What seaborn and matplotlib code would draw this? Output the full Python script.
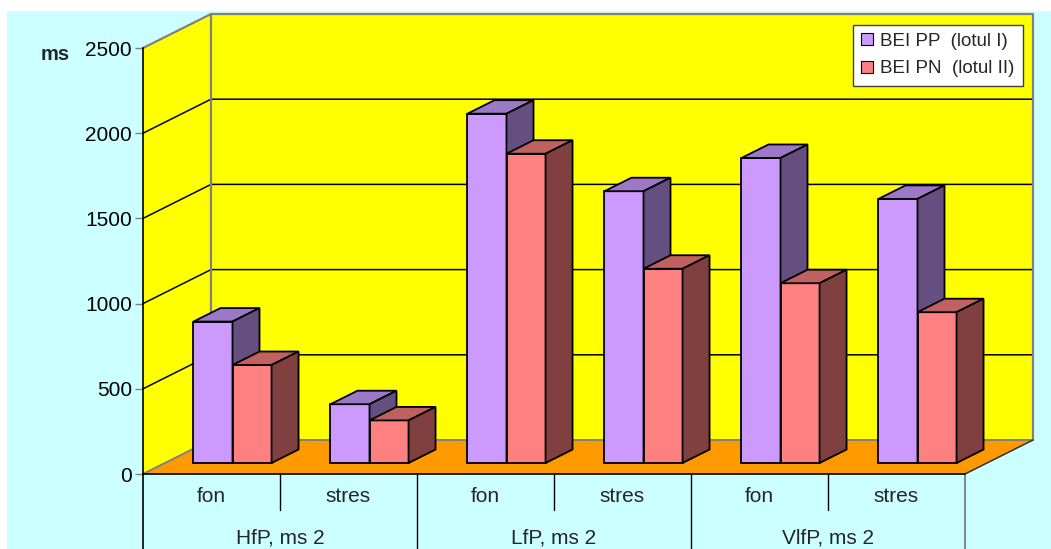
import matplotlib
matplotlib.use("Agg")
import matplotlib.pyplot as plt
import matplotlib.transforms as mtransforms
from matplotlib.patches import Polygon, Rectangle, Patch
import pandas as pd
import seaborn as sns

# ---- data ----
groups = ["HfP, ms 2", "LfP, ms 2", "VlfP, ms 2"]
phases = ["fon", "stres"]
series = ["BEI PP  (lotul I)", "BEI PN  (lotul II)"]
bei_pp = [830, 345, 2050, 1595, 1790, 1550]
bei_pn = [575, 250, 1815, 1140, 1055, 885]
y_ticks = [0, 500, 1000, 1500, 2000, 2500]
y_label = "ms"

# ---- style ----
front_cols = ["#CC99FF", "#FF8080"]
top_cols = ["#9D78C6", "#C06060"]
side_cols = ["#644F80", "#804040"]
BG = "#CCFFFF"
WALL = "#FFFF00"
FLOOR = "#FF9900"

sns.set_theme(style="white")
plt.rcParams["font.family"] = ["Liberation Sans", "DejaVu Sans"]

W, H = 1051, 549
fig = plt.figure(figsize=(W / 100, H / 100), dpi=100)
fig.patch.set_facecolor("white")
fig.add_artist(Rectangle((7 / W, 0), 1 - 7 / W, 1 - 11 / H,
                         transform=fig.transFigure, facecolor=BG,
                         edgecolor="none", zorder=-5))

# front plane of the plot box (pixels)
x0px, x1px, ybot, ytop = 143, 965, 474, 48
ax = fig.add_axes([x0px / W, 1 - ybot / H, (x1px - x0px) / W, (ybot - ytop) / H])
ax.set_facecolor("none")

cats = [f"{g}|{p}" for g in groups for p in phases]
df = pd.DataFrame({
    "cat": cats * 2,
    "lot": [series[0]] * len(cats) + [series[1]] * len(cats),
    "val": bei_pp + bei_pn,
})
sns.barplot(data=df, x="cat", y="val", hue="lot", hue_order=series,
            palette=front_cols, width=0.57, saturation=1, errorbar=None,
            edgecolor="black", linewidth=1.3, legend=False, ax=ax)

n = len(cats)
ax.set_xlim(-0.5, n - 0.5)
ax.set_ylim(0, y_ticks[-1])

# pixel -> data conversion factors
sx = (x1px - x0px) / n
sy = (ybot - ytop) / y_ticks[-1]
wdx, wdy = 68 / sx, 34 / sy      # depth of the walls / floor
bdx, bdy = 21 / sx, 11 / sy      # bar front face shift into the box
ddx, ddy = 27 / sx, 13.5 / sy    # bar depth

L, R, T = -0.5, n - 0.5, y_ticks[-1]

# walls and floor
ax.add_patch(Polygon([(L + wdx, wdy), (R + wdx, wdy), (R + wdx, T + wdy), (L + wdx, T + wdy)],
                     closed=True, facecolor=WALL, edgecolor="none", zorder=0.5, clip_on=False))
ax.add_patch(Polygon([(L, 0), (L, T), (L + wdx, T + wdy), (L + wdx, wdy)],
                     closed=True, facecolor=WALL, edgecolor="none", zorder=0.5, clip_on=False))
for v in y_ticks[1:-1]:
    ax.plot([L, L + wdx, R + wdx], [v, v + wdy, v + wdy], color="black", lw=1.1,
            zorder=0.8, clip_on=False)
ax.plot([L, L + wdx, R + wdx, R + wdx], [T, T + wdy, T + wdy, wdy], color="#808080",
        lw=1.6, zorder=0.9, clip_on=False)
ax.plot([L + wdx, L + wdx], [wdy, T + wdy], color="#808080", lw=1.6, zorder=0.9, clip_on=False)
ax.add_patch(Polygon([(L, 0), (R, 0), (R + wdx, wdy), (L + wdx, wdy)], closed=True,
                     facecolor=FLOOR, edgecolor="none", zorder=1, clip_on=False))
ax.plot([L, L + wdx, R + wdx], [0, wdy, wdy], color="#808080", lw=1.4, zorder=1.1, clip_on=False)
ax.plot([R, R + wdx], [0, wdy], color="#303030", lw=1.1, zorder=1.1, clip_on=False)

# bars: push the front faces into the box and add tops and sides
bars = [p for p in ax.patches if isinstance(p, Rectangle) and p.get_width() < 1]
for p in bars:
    fc = matplotlib.colors.to_hex(p.get_facecolor())
    k = 0 if fc.lower() == front_cols[0].lower() else 1
    x, w, h = p.get_x() + bdx, p.get_width(), p.get_height()
    p.set_x(x)
    p.set_y(bdy)
    p.set_zorder(3 + k)
    p.set_clip_on(False)
    y0, y1 = bdy, bdy + h
    ax.add_patch(Polygon([(x, y1), (x + w, y1), (x + w + ddx, y1 + ddy), (x + ddx, y1 + ddy)],
                         closed=True, facecolor=top_cols[k], edgecolor="black", lw=1.3,
                         zorder=3.2 + k, clip_on=False))
    ax.add_patch(Polygon([(x + w, y0), (x + w, y1), (x + w + ddx, y1 + ddy), (x + w + ddx, y0 + ddy)],
                         closed=True, facecolor=side_cols[k], edgecolor="black", lw=1.3,
                         zorder=3.2 + k, clip_on=False))

# axes styling
for s in ["top", "right"]:
    ax.spines[s].set_visible(False)
ax.spines["left"].set_color("black")
ax.spines["left"].set_linewidth(1.2)
ax.spines["bottom"].set_color("black")
ax.spines["bottom"].set_linewidth(1.2)
ax.spines["left"].set_zorder(2)
ax.spines["bottom"].set_zorder(2)
ax.set_yticks(y_ticks)
ax.set_yticklabels([str(v) for v in y_ticks])
ax.tick_params(axis="y", left=True, length=6, width=1, color="#808080", pad=2,
               labelsize=15, labelcolor="black")
ax.set_xticks([])
ax.set_xlabel("")
ax.set_ylabel("")
ax.grid(False)

# category table under the floor
trans = mtransforms.blended_transform_factory(ax.transData, ax.transAxes)
tab_h = (H - ybot) / (ybot - ytop)
mid_h = (510 - ybot) / (ybot - ytop)
ax.plot([L, L], [0, -tab_h], color="black", lw=1.2, transform=trans, clip_on=False)
for gi in range(1, len(groups)):
    xb = L + gi * len(phases)
    ax.plot([xb, xb], [0, -tab_h], color="black", lw=1, transform=trans, clip_on=False)
ax.plot([R, R], [0, -tab_h], color="#707070", lw=1.2, transform=trans, clip_on=False)
for gi, g in enumerate(groups):
    for pi in range(1, len(phases)):
        xb = L + gi * len(phases) + pi
        ax.plot([xb, xb], [0, -mid_h], color="black", lw=1, transform=trans, clip_on=False)
    ax.text(gi * len(phases) + (len(phases) - 1) / 2, -(538 - ybot) / (ybot - ytop), g,
            transform=trans, ha="center", va="center", fontsize=15)
for i, c in enumerate(cats):
    ax.text(i, -(497 - ybot) / (ybot - ytop), c.split("|")[1], transform=trans,
            ha="center", va="center", fontsize=15)

fig.text(41 / W, 1 - 55 / H, y_label, fontsize=14.5, fontweight="bold",
         ha="left", va="center")

handles = [Patch(facecolor=front_cols[k], edgecolor="black", lw=0.8, label=series[k])
           for k in range(len(series))]
leg = ax.legend(handles=handles, loc="upper right", bbox_to_anchor=(1023 / W, 1 - 24.5 / H),
                bbox_transform=fig.transFigure, frameon=True, fancybox=False,
                facecolor="white", edgecolor="#404040", framealpha=1, fontsize=13.5,
                handlelength=0.6, handleheight=0.6, handletextpad=0.4,
                borderpad=0.45, labelspacing=0.55, borderaxespad=0)
leg.get_frame().set_linewidth(1)
leg.set_zorder(10)

fig.savefig("out.png", dpi=100)
